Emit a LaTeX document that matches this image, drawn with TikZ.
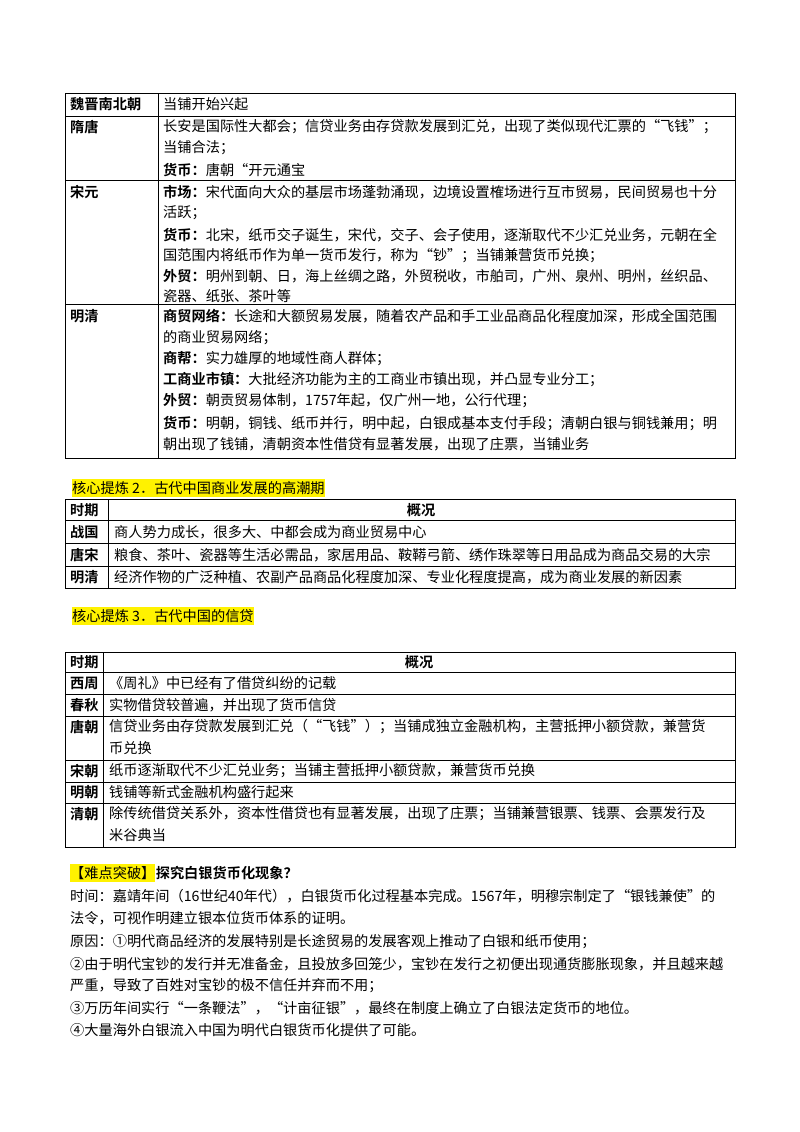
\documentclass[tikz,border=0pt]{standalone}
\usepackage{fontspec}
\setmainfont{Noto Sans CJK SC}[BoldFont=Noto Sans CJK SC Bold]
\begin{document}
\begin{tikzpicture}[x=1pt,y=-1pt,
 t/.style={anchor=west,inner sep=0pt,font=\fontsize{14.2}{16}\selectfont},
 h/.style={t,font=\fontsize{14.2}{16}\selectfont\bfseries},
 hl/.style={t,fill=yellow,inner ysep=2pt},
 grid/.style={line width=0.8pt}]
\useasboundingbox (0,0) rectangle (800,1132);
% ---------- table 1
\draw[grid] (65,93) rectangle (735,458);
\draw[grid] (158,93) -- (158,458);
\foreach \y in {116,180,304} \draw[grid] (65,\y) -- (735,\y);
\node[h] (a1) at (70,104) {魏晋南北朝};
\node[t] (a1t) at (163,104) {当铺开始兴起};
\node[h] (a2) at (70,127) {隋唐};
\node[t] (a2t1) at (163,127) {长安是国际性大都会；信贷业务由存贷款发展到汇兑，出现了类似现代汇票的“飞钱”；};
\node[t] (a2t2) at (163,148) {当铺合法；};
\node[t] (a2t3) at (163,170) {\textbf{货币：}唐朝“开元通宝};
\node[h] (a3) at (70,192) {宋元};
\node[t] (a3t1) at (163,192) {\textbf{市场：}宋代面向大众的基层市场蓬勃涌现，边境设置榷场进行互市贸易，民间贸易也十分};
\node[t] (a3t2) at (163,213) {活跃；};
\node[t] (a3t3) at (163,235) {\textbf{货币：}北宋，纸币交子诞生，宋代，交子、会子使用，逐渐取代不少汇兑业务，元朝在全};
\node[t] (a3t4) at (163,256) {国范围内将纸币作为单一货币发行，称为“钞”；当铺兼营货币兑换；};
\node[t] (a3t5) at (163,276) {\textbf{外贸：}明州到朝、日，海上丝绸之路，外贸税收，市舶司，广州、泉州、明州，丝织品、};
\node[t] (a3t6) at (163,296) {瓷器、纸张、茶叶等};
\node[h] (a4) at (70,316) {明清};
\node[t] (a4t1) at (163,316) {\textbf{商贸网络：}长途和大额贸易发展，随着农产品和手工业品商品化程度加深，形成全国范围};
\node[t] (a4t2) at (163,338) {的商业贸易网络；};
\node[t] (a4t3) at (163,359) {\textbf{商帮：}实力雄厚的地域性商人群体；};
\node[t] (a4t4) at (163,380) {\textbf{工商业市镇：}大批经济功能为主的工商业市镇出现，并凸显专业分工；};
\node[t] (a4t5) at (163,401) {\textbf{外贸：}朝贡贸易体制，1757年起，仅广州一地，公行代理；};
\node[t] (a4t6) at (163,424) {\textbf{货币：}明朝，铜钱、纸币并行，明中起，白银成基本支付手段；清朝白银与铜钱兼用；明};
\node[t] (a4t7) at (163,444) {朝出现了钱铺，清朝资本性借贷有显著发展，出现了庄票，当铺业务};
% ---------- heading 2
\node[hl] (s2) at (72,488) {核心提炼 2．古代中国商业发展的高潮期};
\draw[grid] (65,499) rectangle (735,588);
\draw[grid] (108,499) -- (108,588);
\foreach \y in {520,543,566} \draw[grid] (65,\y) -- (735,\y);
\node[h] (b0) at (70,510) {时期};
\node[h,anchor=center] (b0t) at (421,510) {概况};
\node[h] (b1) at (70,532) {战国};
\node[t] (b1t) at (114,532) {商人势力成长，很多大、中都会成为商业贸易中心};
\node[h] (b2) at (70,555) {唐宋};
\node[t] (b2t) at (114,555) {粮食、茶叶、瓷器等生活必需品，家居用品、鞍鞯弓箭、绣作珠翠等日用品成为商品交易的大宗};
\node[h] (b3) at (70,577) {明清};
\node[t] (b3t) at (114,577) {经济作物的广泛种植、农副产品商品化程度加深、专业化程度提高，成为商业发展的新因素};
% ---------- heading 3
\node[hl] (s3) at (72,616) {核心提炼 3．古代中国的信贷};
\draw[grid] (65,652) rectangle (735,847);
\draw[grid] (103,652) -- (103,847);
\foreach \y in {672,694,716,760,782,803} \draw[grid] (65,\y) -- (735,\y);
\node[h] (c0) at (70,662) {时期};
\node[h,anchor=center] (c0t) at (419,662) {概况};
\node[h] (c1) at (70,683) {西周};
\node[t] (c1t) at (109,683) {《周礼》中已经有了借贷纠纷的记载};
\node[h] (c2) at (70,705) {春秋};
\node[t] (c2t) at (109,705) {实物借贷较普遍，并出现了货币信贷};
\node[h] (c3) at (70,727) {唐朝};
\node[t] (c3t1) at (109,727) {信贷业务由存贷款发展到汇兑（“飞钱”）；当铺成独立金融机构，主营抵押小额贷款，兼营货};
\node[t] (c3t2) at (109,748) {币兑换};
\node[h] (c4) at (70,771) {宋朝};
\node[t] (c4t) at (109,771) {纸币逐渐取代不少汇兑业务；当铺主营抵押小额贷款，兼营货币兑换};
\node[h] (c5) at (70,792) {明朝};
\node[t] (c5t) at (109,792) {钱铺等新式金融机构盛行起来};
\node[h] (c6) at (70,814) {清朝};
\node[t] (c6t1) at (109,814) {除传统借贷关系外，资本性借贷也有显著发展，出现了庄票；当铺兼营银票、钱票、会票发行及};
\node[t] (c6t2) at (109,835) {米谷典当};
% ---------- section 4
\node[hl] (d0) at (70,873) {【难点突破】};
\node[h] (d0b) at (d0.east) [anchor=west] {探究白银货币化现象？};
\node[t] (d1) at (70,896) {时间：嘉靖年间（16世纪40年代），白银货币化过程基本完成。1567年，明穆宗制定了“银钱兼使”的};
\node[t] (d2) at (70,918) {法令，可视作明建立银本位货币体系的证明。};
\node[t] (d3) at (70,942) {原因：①明代商品经济的发展特别是长途贸易的发展客观上推动了白银和纸币使用；};
\node[t] (d4) at (70,964) {②由于明代宝钞的发行并无准备金，且投放多回笼少，宝钞在发行之初便出现通货膨胀现象，并且越来越};
\node[t] (d5) at (70,986) {严重，导致了百姓对宝钞的极不信任并弃而不用；};
\node[t] (d6) at (70,1008) {③万历年间实行“一条鞭法”，“计亩征银”，最终在制度上确立了白银法定货币的地位。};
\node[t] (d7) at (70,1030) {④大量海外白银流入中国为明代白银货币化提供了可能。};
\end{tikzpicture}
\end{document}
